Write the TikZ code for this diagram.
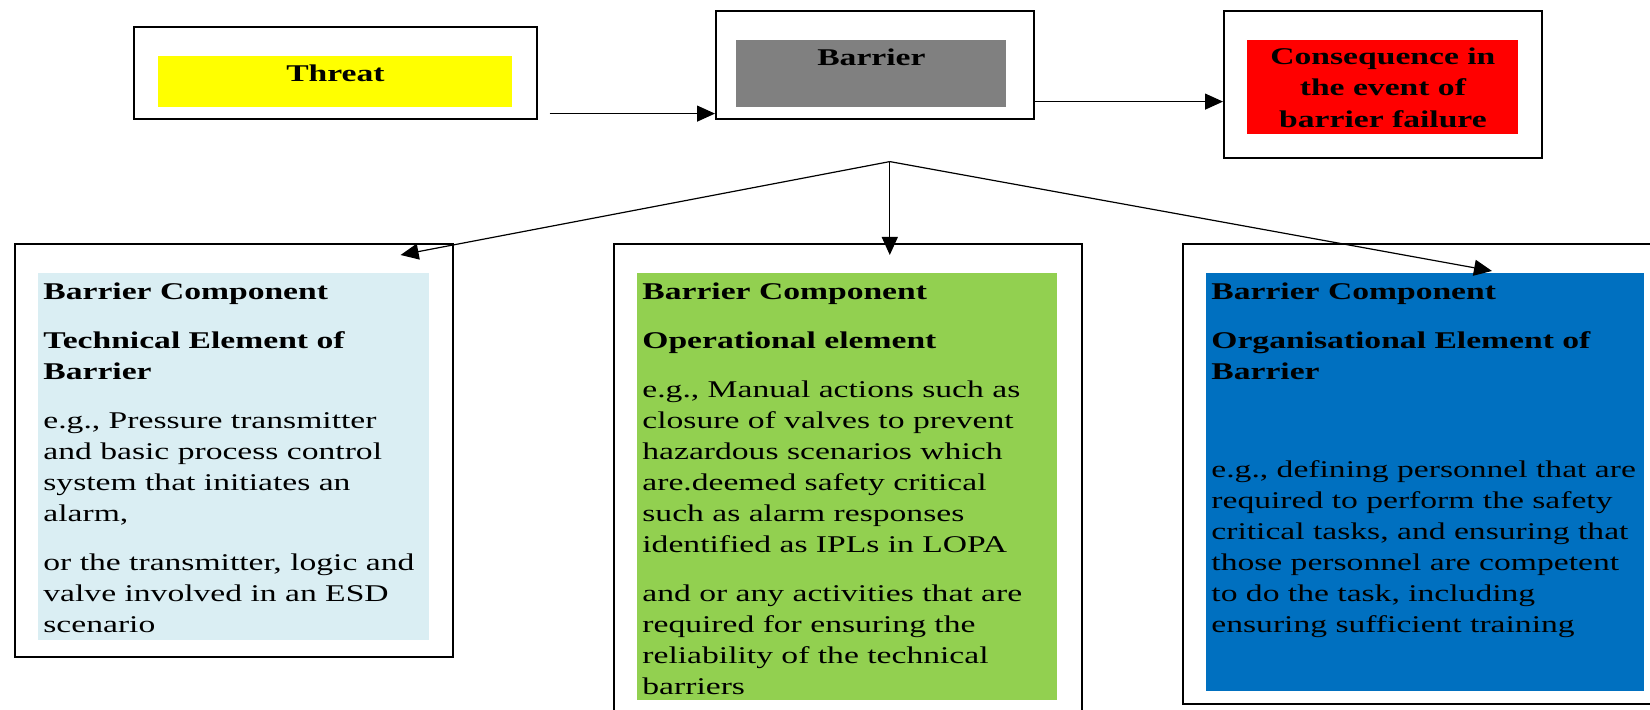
\documentclass[tikz,border=0pt]{standalone}
\usepackage{fontspec}
\setmainfont{Liberation Serif}[FakeStretch=1.4]
\usepackage{tikz}
\usetikzlibrary{arrows.meta,positioning,calc}

\definecolor{threatyellow}{HTML}{FFFF00}
\definecolor{barriergray}{HTML}{808080}
\definecolor{consred}{HTML}{FF0000}
\definecolor{techblue}{HTML}{DAEEF3}
\definecolor{opgreen}{HTML}{92D050}
\definecolor{orgblue}{HTML}{0070C0}

\begin{document}
\begin{tikzpicture}[
  x=0.5pt, y=-0.5pt,
  frame/.style={draw, line width=0.8pt, anchor=north west, inner sep=0pt},
  panel/.style={anchor=north west, inner sep=0pt},
  head/.style={panel, align=center, font=\fontsize{12}{15.75}\selectfont\bfseries},
  body/.style={inner sep=0pt, align=left, font=\fontsize{12}{15.5}\selectfont},
  arr/.style={-{Triangle[length=9pt,width=8pt]}, line width=0.6pt}
]
\useasboundingbox (0,0) rectangle (1650,710);
\clip (0,0) rectangle (1650,710);

% top row
\node[frame, minimum width=201.5pt, minimum height=46pt] (threatbox) at (133,26) {};
\node[head, fill=threatyellow, minimum width=177pt, minimum height=25.5pt,
      text height=12.5pt, text depth=13pt] (threat) at (158,56) {Threat};
\node[frame, minimum width=159pt, minimum height=54pt] (barrierbox) at (715,10) {};
\node[head, fill=barriergray, minimum width=135pt, minimum height=33.5pt,
      text height=12.5pt, text depth=21pt] (barrier) at (736,40) {Barrier};
\node[frame, minimum width=159pt, minimum height=73.5pt] (consbox) at (1223,10) {};
\node[head, fill=consred, minimum width=135.5pt, minimum height=47pt] (cons) at (1247,40)
  {Consequence in\\the event of\\barrier failure};

% barrier components
\node[frame, minimum width=219pt, minimum height=206.5pt] (techbox) at (14,243) {};
\node[panel, fill=techblue, minimum width=195.5pt, minimum height=183.5pt] (tech) at (38,273) {};
\node[body, below right=4.8pt and 2.5pt of tech.north west] (techtext)
  {\textbf{Barrier Component}\\[9pt]
   \textbf{Technical Element of}\\
   \textbf{Barrier}\\[9pt]
   e.g., Pressure transmitter\\
   and basic process control\\
   system that initiates an\\
   alarm,\\[9pt]
   or the transmitter, logic and\\
   valve involved in an ESD\\
   scenario};

\node[frame, minimum width=234pt, minimum height=245pt] (opbox) at (613,243) {};
\node[panel, fill=opgreen, minimum width=210pt, minimum height=213.5pt] (op) at (637,273) {};
\node[body, below right=4.8pt and 2.5pt of op.north west] (optext)
  {\textbf{Barrier Component}\\[9pt]
   \textbf{Operational element}\\[9pt]
   e.g., Manual actions such as\\
   closure of valves to prevent\\
   hazardous scenarios which\\
   are.deemed safety critical\\
   such as alarm responses\\
   identified as IPLs in LOPA\\[9pt]
   and or any activities that are\\
   required for ensuring the\\
   reliability of the technical\\
   barriers};

\node[frame, minimum width=235pt, minimum height=230pt] (orgbox) at (1182,243) {};
\node[panel, fill=orgblue, minimum width=219pt, minimum height=209pt] (org) at (1206,273) {};
\node[body, below right=4.8pt and 2.5pt of org.north west] (orgtext)
  {\textbf{Barrier Component}\\[9pt]
   \textbf{Organisational Element of}\\
   \textbf{Barrier}\\[33.5pt]
   e.g., defining personnel that are\\
   required to perform the safety\\
   critical tasks, and ensuring that\\
   those personnel are competent\\
   to do the task, including\\
   ensuring sufficient training};

% connectors
\coordinate (threatout) at ($(threatbox.south east)+(12,-6)$);
\coordinate (barrierout) at ($(barrierbox.south east)+(0,-18)$);
\draw[arr] (threatout) -- (barrierbox.west |- threatout);
\draw[arr] (barrierout) -- (consbox.west |- barrierout);

\coordinate (split) at ($(barrierbox.south)+(15,42)$);
\coordinate (techtip) at ($(techbox.north east)+(-53,12)$);
\coordinate (orgtip) at ($(org.north west)+(286,-2)$);
\draw[arr] (split) -- (techtip);
\draw[arr] (split) -- (split |- techtip);
\draw[arr] (split) -- (orgtip);
\end{tikzpicture}
\end{document}
